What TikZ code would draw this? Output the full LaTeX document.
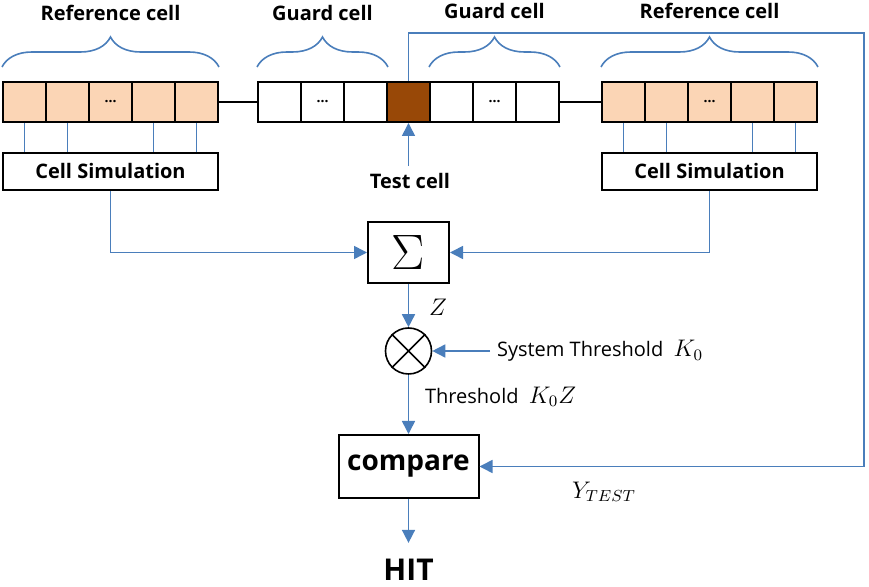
\documentclass[tikz,border=0pt]{standalone}
\usepackage{fontspec}
\setmainfont{Open Sans}
\usetikzlibrary{arrows.meta,decorations.pathreplacing,positioning}
\definecolor{peach}{HTML}{FBD5B5}
\definecolor{testbrown}{HTML}{984807}
\definecolor{sigblue}{HTML}{4A7EBB}
\tikzset{
  cell/.style={draw,line width=1pt,minimum width=21.5pt,minimum height=20pt,inner sep=0pt,font=\bfseries\scriptsize},
  refcell/.style={cell,fill=peach},
  simbox/.style={draw,line width=1pt,minimum width=107.5pt,minimum height=18.5pt,font=\bfseries},
  sig/.style={sigblue,line width=0.8pt},
  sigarrow/.style={sig,-{Triangle[length=6.5pt,width=6.5pt]}},
  grp/.style={sigblue,line width=0.8pt,decorate,decoration={brace,amplitude=15pt,raise=7pt}},
  grplabel/.style={font=\bfseries}
}
\begin{document}
\begin{tikzpicture}[x=0.5pt,y=-0.5pt]
  \useasboundingbox (0,0) rectangle (869,587);
  % cell rows
  \foreach \i/\lbl in {1/{},2/{},3/\dots,4/{},5/{}}{
      \node[refcell] (l\i) at (-18.5+43*\i,102) {\lbl};
      \node[refcell] (r\i) at (580.5+43*\i,102) {\lbl};}
  \foreach \i/\lbl in {1/{},2/\dots,3/{}}{
      \node[cell] (gl\i) at (236.5+43*\i,102) {\lbl};
      \node[cell] (gr\i) at (408.5+43*\i,102) {\lbl};}
  \node[cell,fill=testbrown] (t) at (408.5,102) {};
  \draw[line width=1pt] (l5.east) -- (gl1.west);
  \draw[line width=1pt] (gr3.east) -- (r1.west);
  % braces and their labels
  \draw[grp] (l1.north west) -- (l5.north east);
  \draw[grp] (gl1.north west) -- (gl3.north east);
  \draw[grp] (gr1.north west) -- (gr3.north east);
  \draw[grp] (r1.north west) -- (r5.north east);
  \node[grplabel] (lref) at (110.5,13) {Reference cell};
  \node[grplabel] (lguard) at (322.5,13) {Guard cell};
  \node[grplabel] (rguard) at (494.5,11) {Guard cell};
  \node[grplabel] (rref) at (709.5,11) {Reference cell};
  % test cell
  \node[font=\bfseries] (tlbl) at (410,181) {Test cell};
  \draw[sigarrow] (t.south |- tlbl.north) -- (t.south);
  % cell simulation
  \node[simbox] (lsim) at (110.5,171.5) {Cell Simulation};
  \node[simbox] (rsim) at (709.5,171.5) {Cell Simulation};
  \foreach \i in {1,2,4,5}{
      \draw[sig] (l\i.south) -- (l\i.south |- lsim.north);
      \draw[sig] (r\i.south) -- (r\i.south |- rsim.north);}
  % sum, product, compare
  \node[draw,line width=1pt,minimum width=40.5pt,minimum height=30.5pt,font=\fontsize{23}{23}\selectfont] (sum) at (408.5,252.5) {$\Sigma$};
  \draw[sigarrow] (lsim.south) |- (sum.west);
  \draw[sigarrow] (rsim.south) |- (sum.east);
  \node[draw,line width=0.8pt,circle,minimum size=23pt,inner sep=0pt] (mul) at (408.5,351) {};
  \draw[line width=0.8pt] (mul.north west) -- (mul.south east) (mul.north east) -- (mul.south west);
  \draw[sigarrow] (sum.south) -- (mul.north);
  \node[anchor=west,font=\large] (zlbl) at (422,307) {$Z$};
  \node[anchor=west] (sys) at (490,351) {System Threshold\ \ {\large$K_0$}};
  \draw[sigarrow] (sys.west) -- (mul.east);
  \node[anchor=west] (thr) at (418,397) {Threshold\ \ {\large$K_0Z$}};
  \node[draw,line width=1pt,minimum width=70pt,minimum height=31.5pt,font=\bfseries\fontsize{14}{16}\selectfont] (cmp) at (408.5,466.5) {compare};
  \draw[sigarrow] (mul.south) -- (cmp.north);
  \coordinate (fb) at (864,33);
  \draw[sigarrow] (t.north) |- (fb) |- (cmp.east);
  \node[anchor=west,font=\large] (ylbl) at (565,492) {$Y_{TEST}$};
  \node[font=\bfseries\fontsize{15}{18}\selectfont,inner sep=0pt] (hit) at (408.5,570) {HIT};
  \draw[sigarrow,shorten >=8pt] (cmp.south) -- (hit.north);
\end{tikzpicture}
\end{document}
